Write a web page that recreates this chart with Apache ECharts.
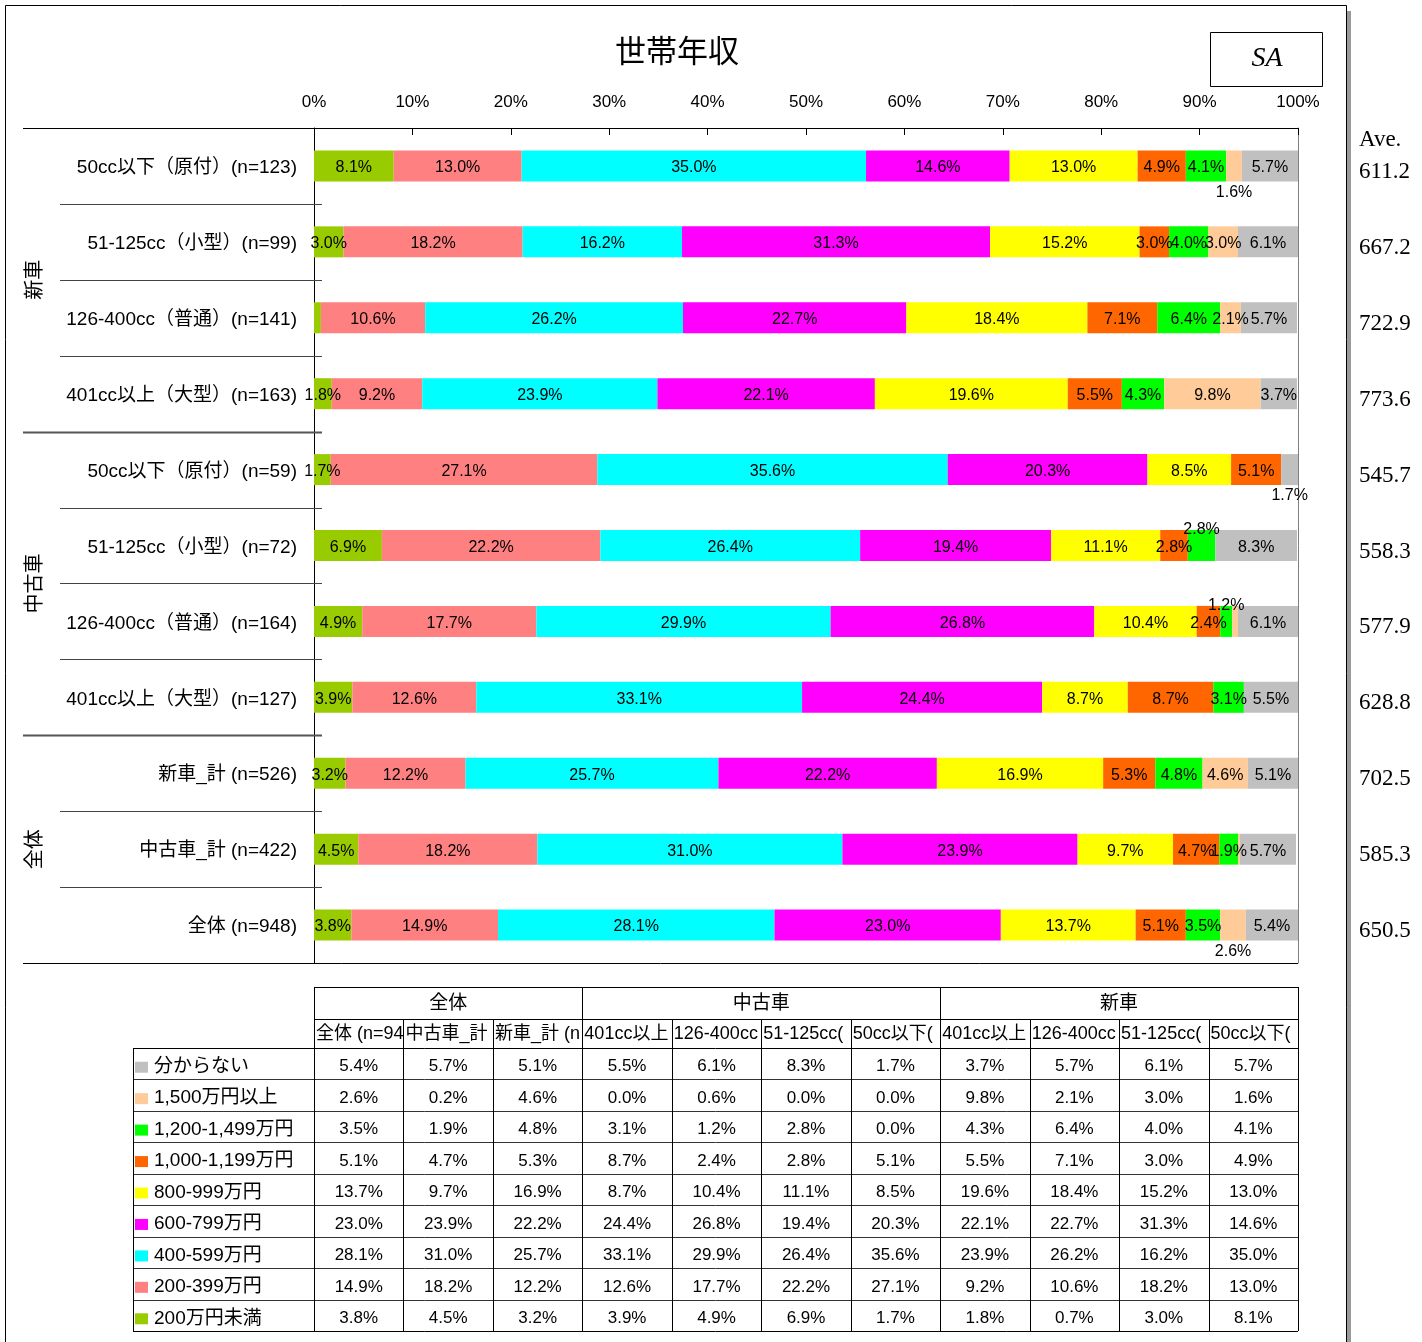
<!DOCTYPE html>
<html>
<head>
<meta charset="utf-8">
<title>世帯年収</title>
<script src="https://cdn.jsdelivr.net/npm/echarts@6/dist/echarts.min.js"></script>
<style>
html,body{margin:0;padding:0;background:#fff;}
#main{width:1422px;height:1342px;}
</style>
</head>
<body>
<div id="main"></div>
<script>
// 行ラベル（上から順）
var rowLabels = [
	'50cc以下（原付）(n=123)',
	'51-125cc（小型）(n=99)',
	'126-400cc（普通）(n=141)',
	'401cc以上（大型）(n=163)',
	'50cc以下（原付）(n=59)',
	'51-125cc（小型）(n=72)',
	'126-400cc（普通）(n=164)',
	'401cc以上（大型）(n=127)',
	'新車_計 (n=526)',
	'中古車_計 (n=422)',
	'全体 (n=948)'
];
var groupNames = ['新車', '中古車', '全体'];
var groupRows = [[0, 4], [4, 8], [8, 11]];

var bandNames = ['200万円未満', '200-399万円', '400-599万円', '600-799万円', '800-999万円',
	'1,000-1,199万円', '1,200-1,499万円', '1,500万円以上', '分からない'];
var bandColors = ['#99CC00', '#FF8080', '#00FFFF', '#FF00FF', '#FFFF00',
	'#FF6600', '#00FF00', '#FFCC99', '#C0C0C0'];

// 各所得帯の値（行順）
var under200   = [8.1, 3.0, 0.7, 1.8, 1.7, 6.9, 4.9, 3.9, 3.2, 4.5, 3.8];
var b200_399   = [13.0, 18.2, 10.6, 9.2, 27.1, 22.2, 17.7, 12.6, 12.2, 18.2, 14.9];
var b400_599   = [35.0, 16.2, 26.2, 23.9, 35.6, 26.4, 29.9, 33.1, 25.7, 31.0, 28.1];
var b600_799   = [14.6, 31.3, 22.7, 22.1, 20.3, 19.4, 26.8, 24.4, 22.2, 23.9, 23.0];
var b800_999   = [13.0, 15.2, 18.4, 19.6, 8.5, 11.1, 10.4, 8.7, 16.9, 9.7, 13.7];
var b1000_1199 = [4.9, 3.0, 7.1, 5.5, 5.1, 2.8, 2.4, 8.7, 5.3, 4.7, 5.1];
var b1200_1499 = [4.1, 4.0, 6.4, 4.3, 0.0, 2.8, 1.2, 3.1, 4.8, 1.9, 3.5];
var over1500   = [1.6, 3.0, 2.1, 9.8, 0.0, 0.0, 0.6, 0.0, 4.6, 0.2, 2.6];
var unknown    = [5.7, 6.1, 5.7, 3.7, 1.7, 8.3, 6.1, 5.5, 5.1, 5.7, 5.4];

var aveValues = ['611.2', '667.2', '722.9', '773.6', '545.7', '558.3', '577.9', '628.8', '702.5', '585.3', '650.5'];

var bands = [under200, b200_399, b400_599, b600_799, b800_999, b1000_1199, b1200_1499, over1500, unknown];

// 表の列（全体, 中古車_計, 新車_計, 中古車4区分, 新車4区分）= 行の逆順
var tableGroups = [['全体', 0, 3], ['中古車', 3, 7], ['新車', 7, 11]];

// 棒の外に出すラベル  "系列-行"
var labelOutside = {'7-0': 'bottom', '8-4': 'bottom', '6-5': 'top', '6-6': 'top', '7-10': 'bottom'};

var jp = '"Liberation Sans", "Noto Sans CJK JP", sans-serif';
var serif = '"Liberation Serif", "Times New Roman", serif';

var L = 314, R = 1298, T = 128, B = 963;
var rowH = (B - T) / rowLabels.length;

var chart = echarts.init(document.getElementById('main'));

var series = bands.map(function (arr, s) {
	return {
		name: bandNames[s],
		type: 'bar',
		stack: 'total',
		barWidth: 31,
		itemStyle: {color: bandColors[s]},
		label: {
			show: true,
			position: 'inside',
			offset: [0, 2],
			color: '#000',
			fontSize: 16,
			fontFamily: jp,
			textBorderWidth: 0,
			formatter: function (p) {
				return p.value < 1 ? '' : p.value.toFixed(1) + '%';
			}
		},
		emphasis: {disabled: true},
		data: arr.map(function (v, r) {
			var pos = labelOutside[s + '-' + r];
			if (!pos) return v;
			return {value: v, label: {position: pos, distance: pos === 'top' ? -6 : 1}};
		})
	};
});

// 罫線・文字
var g = [];
function line(x1, y1, x2, y2, c, w) {
	g.push({type: 'line', silent: true, z: 10,
		shape: {x1: x1, y1: y1, x2: x2, y2: y2},
		style: {stroke: c || '#000', lineWidth: w || 1}});
}
function text(t, x, y, o) {
	o = o || {};
	var st = {
		text: t, x: 0, y: 0, fill: '#000',
		fontSize: o.size || 17, fontFamily: o.family || jp,
		fontStyle: o.style || 'normal',
		align: o.align || 'center', verticalAlign: 'middle'
	};
	if (o.w) { st.width = o.w; st.overflow = 'truncate'; st.ellipsis = ''; }
	g.push({type: 'text', silent: true, z: 11, x: x, y: y, rotation: o.rot || 0, style: st});
}

// 外枠
line(5.5, 5.5, 1346.5, 5.5);
line(5.5, 5.5, 5.5, 1342);
line(1346.5, 5.5, 1346.5, 1342);
g.push({type: 'rect', silent: true, shape: {x: 1347, y: 11, width: 4, height: 1331}, style: {fill: '#9a9a9a'}});

// タイトル・SA
text('世帯年収', 677, 53, {size: 31});
g.push({type: 'rect', silent: true, z: 10, shape: {x: 1210.5, y: 32.5, width: 112, height: 54},
	style: {fill: '#fff', stroke: '#000', lineWidth: 1}});
text('SA', 1267, 59, {size: 28, family: serif, style: 'italic'});
text('Ave.', 1359, 140, {size: 23, family: serif, align: 'left'});

// 行区切り
line(23, T + 0.5, L, T + 0.5);
line(23, B + 0.5, R, B + 0.5);
for (var k = 1; k < rowLabels.length; k++) {
	var yy = Math.round(T + k * rowH) + 0.5;
	var grp = (k === 4 || k === 8);
	line(grp ? 23 : 60, yy, 322, yy, grp ? '#555' : '#444', grp ? 2 : 1);
}
groupRows.forEach(function (gr, i) {
	text(groupNames[i], 35, T + (gr[0] + gr[1]) / 2 * rowH, {size: 20, rot: Math.PI / 2});
});

// 表
var colN = rowLabels.length;
var colW = (R - L) / colN;
var tTop = 987, hTop = 1019, dTop = 1048, tBot = 1331, tLeft = 133;
var dH = (tBot - dTop) / bands.length;
line(L, tTop + 0.5, R, tTop + 0.5);
line(L, hTop + 0.5, R, hTop + 0.5);
for (var i = 0; i <= bands.length; i++) {
	var ly = Math.round(dTop + i * dH) + 0.5;
	line(tLeft, ly, R, ly, i === 0 || i === bands.length ? '#000' : '#333');
}
line(tLeft + 0.5, dTop, tLeft + 0.5, tBot);
for (var j = 0; j <= colN; j++) {
	var lx = Math.round(L + j * colW) + 0.5;
	var full = (j === 0 || j === 3 || j === 7 || j === colN);
	line(lx, full ? tTop : hTop, lx, tBot);
}
tableGroups.forEach(function (tg) {
	text(tg[0], L + (tg[1] + tg[2]) / 2 * colW, (tTop + hTop) / 2 + 1, {size: 19});
});
for (var j2 = 0; j2 < colN; j2++) {
	var rIdx = colN - 1 - j2;
	var hdr = rowLabels[rIdx].replace(/（/g, '(').replace(/）/g, ')');
	text(hdr, L + j2 * colW + 2, (hTop + dTop) / 2 + 1, {size: 18, align: 'left', w: colW});
}
for (var i2 = 0; i2 < bands.length; i2++) {
	var b = bands.length - 1 - i2;
	var cy = dTop + (i2 + 0.5) * dH + 3;
	g.push({type: 'rect', silent: true, z: 10, shape: {x: 135, y: cy - 5, width: 13, height: 11},
		style: {fill: bandColors[b]}});
	text(bandNames[b], 154, cy, {size: 19, align: 'left'});
	for (var j3 = 0; j3 < colN; j3++) {
		var v = bands[b][colN - 1 - j3];
		text(v.toFixed(1) + '%', L + (j3 + 0.5) * colW, cy, {size: 17});
	}
}

var option = {
	animation: false,
	backgroundColor: '#fff',
	grid: {left: L, top: T, width: R - L, height: B - T, outerBoundsMode: 'none', containLabel: false},
	xAxis: {
		type: 'value', position: 'top', min: 0, max: 100, interval: 10,
		axisLine: {show: true, lineStyle: {color: '#000', width: 1}},
		axisTick: {show: true, inside: true, length: 7, lineStyle: {color: '#000'}},
		axisLabel: {formatter: '{value}%', margin: 17, fontSize: 17, color: '#000', fontFamily: jp},
		splitLine: {show: false}
	},
	yAxis: [
		{
			type: 'category', inverse: true, data: rowLabels,
			axisLine: {show: true, lineStyle: {color: '#000', width: 1}},
			axisTick: {show: false},
			axisLabel: {margin: 17, fontSize: 19, color: '#000', fontFamily: jp, verticalAlign: 'top', lineHeight: 4},
			splitLine: {show: false}
		},
		{
			type: 'category', inverse: true, position: 'right', data: aveValues,
			axisLine: {show: true, lineStyle: {color: '#808080', width: 1}},
			axisTick: {show: false},
			axisLabel: {margin: 61, fontSize: 23, color: '#000', fontFamily: serif, verticalAlign: 'top', lineHeight: 12},
			splitLine: {show: false}
		}
	],
	series: series,
	graphic: {elements: g}
};
chart.setOption(option);
</script>
</body>
</html>
